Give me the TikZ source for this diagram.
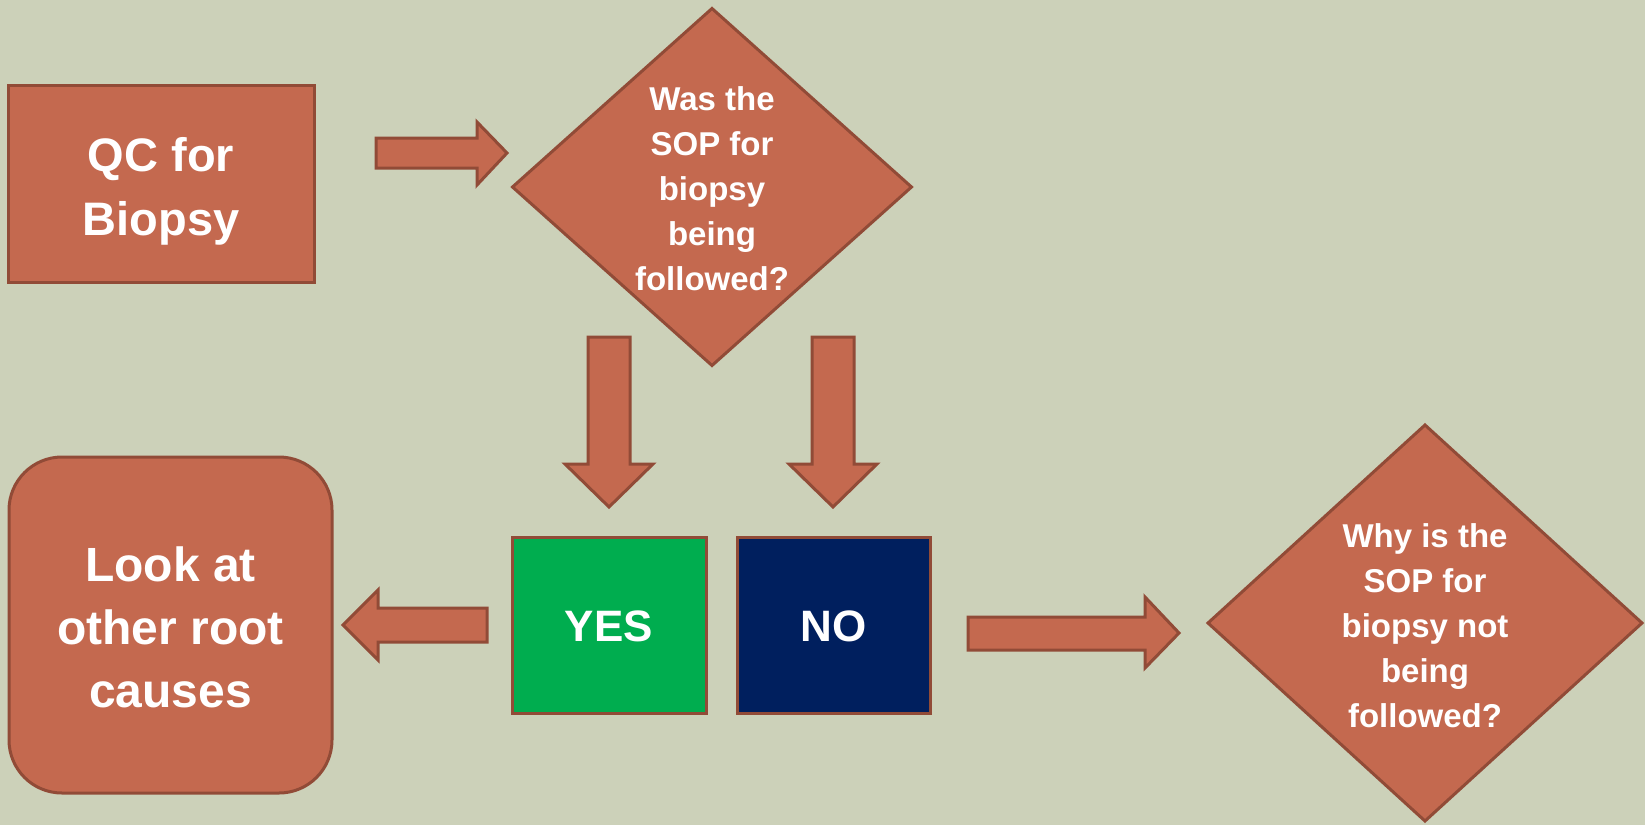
\documentclass[tikz,border=0pt]{standalone}
\usepackage{fontspec}
\setmainfont{Liberation Sans}
\usetikzlibrary{shapes.geometric}
\definecolor{bgc}{HTML}{CCD1B9}
\definecolor{boxfill}{HTML}{C4694F}
\definecolor{boxline}{HTML}{914B37}
\definecolor{yesgreen}{HTML}{00AD4F}
\definecolor{nonavy}{HTML}{001F5E}
\tikzset{
  base/.style={draw=boxline, line width=3pt, inner sep=0pt, outer sep=0pt},
  rectbox/.style={base, fill=boxfill, rectangle},
  roundbox/.style={base, fill=boxfill, rectangle, rounded corners=53pt},
  decbox/.style={base, fill=boxfill, diamond},
  yesbox/.style={base, fill=yesgreen, rectangle},
  nobox/.style={base, fill=nonavy, rectangle},
  txt/.style={text=white, align=center, inner sep=0pt, font=\bfseries},
  blockarrow/.style={draw=boxline, fill=boxfill, line width=3pt, line join=miter},
}
\begin{document}
\begin{tikzpicture}[x=1pt,y=-1pt]
\fill[bgc] (0,0) rectangle (1645,825);
\useasboundingbox (0,0) rectangle (1645,825);

% boxes
\node[rectbox, minimum width=306pt, minimum height=197pt] (qc) at (161,183.5) {};
\node[txt, font=\bfseries\fontsize{47}{64}\selectfont] (qct) at ([yshift=-8pt]qc.center) {QC for\\Biopsy};

\node[decbox, minimum width=399pt, minimum height=357pt] (d1) at (712,187) {};
\node[txt, font=\bfseries\fontsize{33}{45}\selectfont] (d1t) at ([yshift=-1.5pt]d1.center) {Was the\\SOP for\\biopsy\\being\\followed?};

\node[roundbox, minimum width=323pt, minimum height=336pt] (look) at (170.5,625) {};
\node[txt, font=\bfseries\fontsize{48}{63}\selectfont] (lookt) at ([yshift=-2pt]look.center) {Look at\\other root\\causes};

\node[yesbox, minimum width=194pt, minimum height=176pt] (yes) at (609,625) {};
\node[txt, font=\bfseries\fontsize{44}{50}\selectfont] (yest) at ([yshift=-1.5pt]yes.center) {YES};

\node[nobox, minimum width=193pt, minimum height=176pt] (no) at (833.5,625) {};
\node[txt, font=\bfseries\fontsize{44}{50}\selectfont] (not) at ([yshift=-1.5pt]no.center) {NO};

\node[decbox, minimum width=434pt, minimum height=396pt] (d2) at (1425,623) {};
\node[txt, font=\bfseries\fontsize{33}{45}\selectfont] (d2t) at ([yshift=-3pt]d2.center) {Why is the\\SOP for\\biopsy not\\being\\followed?};

% block arrows
\draw[blockarrow] (376,138) -- (477,138) -- (477,122) -- (507,153) -- (477,185) -- (477,168) -- (376,168) -- cycle;
\draw[blockarrow] (588,337) -- (630,337) -- (630,464) -- (653,464) -- (609,507) -- (565,464) -- (588,464) -- cycle;
\draw[blockarrow] (812,337) -- (854,337) -- (854,464) -- (877,464) -- (833,507) -- (789,464) -- (812,464) -- cycle;
\draw[blockarrow] (487,608) -- (378,608) -- (378,590) -- (343,625) -- (378,660) -- (378,642) -- (487,642) -- cycle;
\draw[blockarrow] (968,617) -- (1145,617) -- (1145,597) -- (1179,633) -- (1145,668) -- (1145,650) -- (968,650) -- cycle;
\end{tikzpicture}
\end{document}
